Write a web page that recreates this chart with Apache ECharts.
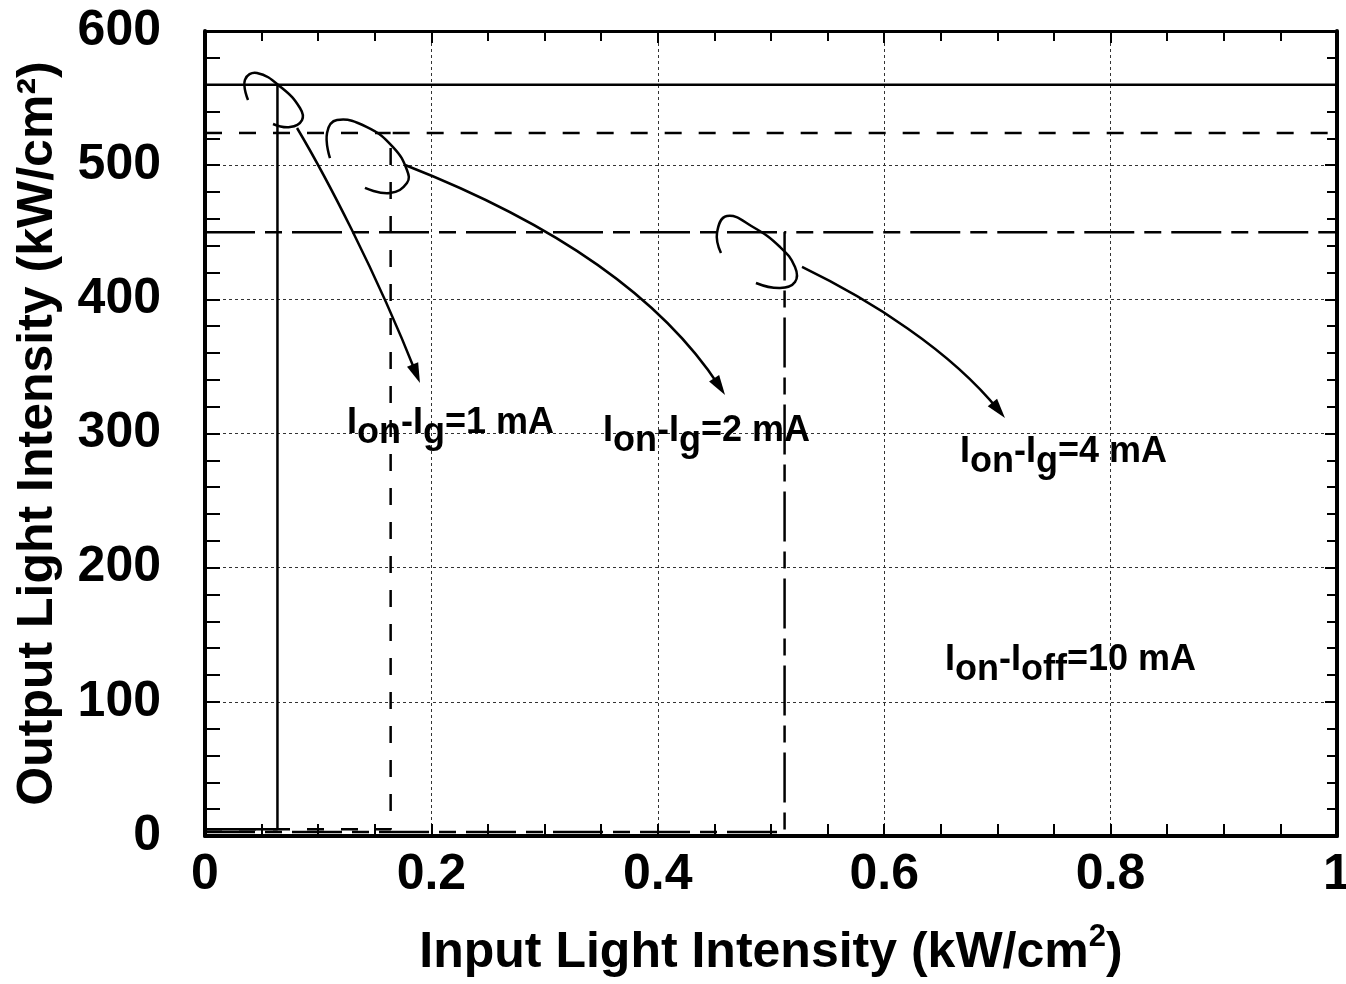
<!DOCTYPE html>
<html><head><meta charset="utf-8">
<script src="https://cdn.jsdelivr.net/npm/echarts@6/dist/echarts.min.js"></script>
<style>html,body{margin:0;padding:0;background:#fff}#c{width:1346px;height:984px}</style>
</head><body><div id="c"></div>
<script>
// ---- data ----
const xTickValues = [0, 0.2, 0.4, 0.6, 0.8, 1];
const yTickValues = [0, 100, 200, 300, 400, 500, 600];
const curveNames = ['Ion-Ig=1 mA', 'Ion-Ig=2 mA', 'Ion-Ig=4 mA'];
const switchInput = [0.064, 0.164, 0.512];   // kW/cm2 where output jumps
const highOutput = [560, 524, 450];           // kW/cm2 upper branch
const lowOutput = [5, 5, 3];                  // kW/cm2 lower branch

// annotation arrows (data coordinates)
const arrowLoops = [
  [[0.038,548.6],[0.0353,563.5],[0.0459,568.7],[0.068,557.5],[0.0839,542.6],[0.0857,533.6],[0.0751,528.4],[0.0601,530.7]],
  [[0.1104,505.3],[0.1078,524.0],[0.1166,533.6],[0.1431,528.4],[0.1661,513.5],[0.1784,496.4],[0.1784,486.7],[0.1634,479.2],[0.1413,483.0]],
  [[0.4558,434.5],[0.4523,449.4],[0.4611,462.1],[0.4841,453.9],[0.5080,439.0],[0.5212,424.1],[0.5212,412.9],[0.5080,408.4],[0.4867,412.2]]
];
// cubic tails: start, control 1, control 2, tip
const arrowTails = [
  [[0.0813,527.7],[0.1060,492.7],[0.1502,421.9],[0.1899,337.6]],
  [[0.1767,500.1],[0.2783,466.6],[0.3931,414.4],[0.4594,328.7]],
  [[0.5274,424.1],[0.5875,399.5],[0.6581,362.2],[0.7067,311.5]]
];
// annotation labels
const labelTexts = [
  '{m|I}{s|on}{m|-I}{s|g}{m|=1 mA}',
  '{m|I}{s|on}{m|-I}{s|g}{m|=2 mA}',
  '{m|I}{s|on}{m|-I}{s|g}{m|=4 mA}',
  '{m|I}{s|on}{m|-I}{s|off}{m|=10 mA}'
];
const labelAnchors = [[0.1254,306.3],[0.3516,300.4],[0.667,284.7],[0.6537,129.3]];

// ---- styles ----
const FONT = '"Liberation Sans", Arial, sans-serif';
const dashStyles = ['solid', [17, 17], [50, 10, 17, 10]];

const chart = echarts.init(document.getElementById('c'));

const series = [];
for (let i = 0; i < curveNames.length; i++) {
  const ls = { color: '#000', width: 2.5, type: dashStyles[i] };
  series.push({
    name: curveNames[i], type: 'line', showSymbol: false, symbol: 'none',
    lineStyle: ls, silent: true, z: 5,
    data: [[0, lowOutput[i]], [switchInput[i], lowOutput[i]], [switchInput[i], highOutput[i]], [1, highOutput[i]]]
  });
  series.push({
    name: curveNames[i] + ' return', type: 'line', showSymbol: false, symbol: 'none',
    lineStyle: ls, silent: true, z: 5,
    data: [[0, highOutput[i]], [switchInput[i], highOutput[i]]]
  });
}

series.push({
  type: 'custom', coordinateSystem: 'cartesian2d', silent: true, z: 6,
  data: arrowTails.map((t, i) => [t[0][0], t[0][1], i]),
  renderItem: function (params, api) {
    const i = api.value(2);
    const loop = arrowLoops[i].map(p => api.coord(p));
    const t = arrowTails[i].map(p => api.coord(p));
    const tip = t[3], c2 = t[2];
    const a = Math.atan2(tip[1] - c2[1], tip[0] - c2[0]);
    const L = 20, W = 6;
    const bx = tip[0] - L * Math.cos(a), by = tip[1] - L * Math.sin(a);
    const left = [bx + W * Math.sin(a), by - W * Math.cos(a)];
    const right = [bx - W * Math.sin(a), by + W * Math.cos(a)];
    const endX = tip[0] - 10 * Math.cos(a), endY = tip[1] - 10 * Math.sin(a);
    const st = { stroke: '#000', lineWidth: 2.5, fill: 'none' };
    return {
      type: 'group', children: [
        { type: 'polyline', shape: { points: loop, smooth: 0.45 }, style: st },
        { type: 'bezierCurve', shape: { x1: t[0][0], y1: t[0][1], cpx1: t[1][0], cpy1: t[1][1], cpx2: c2[0], cpy2: c2[1], x2: endX, y2: endY }, style: st },
        { type: 'polygon', shape: { points: [tip, left, right] }, style: { fill: '#000' } }
      ]
    };
  }
});

const richLabel = {
  m: { fontSize: 36, fontWeight: 'bold', fontFamily: FONT, lineHeight: 40, verticalAlign: 'top', fill: '#000', color: '#000' },
  s: { fontSize: 36, fontWeight: 'bold', fontFamily: FONT, lineHeight: 40, verticalAlign: 'top', padding: [10, 0, 0, 0], fill: '#000', color: '#000' }
};
series.push({
  type: 'custom', coordinateSystem: 'cartesian2d', silent: true, z: 7,
  data: labelAnchors.map((p, i) => [p[0], p[1], i]),
  renderItem: function (params, api) {
    const i = api.value(2);
    const pt = api.coord([api.value(0), api.value(1)]);
    return {
      type: 'text', x: pt[0], y: pt[1],
      style: {
        text: labelTexts[i], rich: richLabel,
        fontSize: 36, fontWeight: 'bold', fontFamily: FONT, fill: '#000',
        align: 'left', verticalAlign: 'middle', textAlign: 'left', textVerticalAlign: 'middle'
      }
    };
  }
});

const tickCommon = { show: true, inside: true, length: 12, lineStyle: { color: '#000', width: 2 } };
const gridDot = { show: true, lineStyle: { color: '#333', width: 1, type: [3, 3] } };

const option = {
  animation: false,
  backgroundColor: '#fff',
  grid: { left: 205, right: 9, top: 31, bottom: 148, containLabel: false, outerBoundsMode: 'none' },
  xAxis: [{
    type: 'value', min: 0, max: 1, interval: 0.2, position: 'bottom',
    axisLine: { show: true, onZero: false, lineStyle: { color: '#000', width: 4 } },
    axisTick: tickCommon,
    minorTick: { show: true, splitNumber: 4, length: 12, lineStyle: { color: '#000', width: 2 } },
    splitLine: gridDot,
    axisLabel: { fontSize: 50, fontWeight: 'bold', fontFamily: FONT, color: '#000', margin: 14,
      formatter: v => String(xTickValues.find(t => Math.abs(t - v) < 1e-9) ?? v) },
    name: '{a|Input Light Intensity (kW/cm}{s|2}{a|)}',
    nameLocation: 'middle', nameGap: 86,
    nameTextStyle: {
      rich: {
        a: { fontSize: 50, fontWeight: 'bold', fontFamily: FONT, color: '#000', lineHeight: 56, verticalAlign: 'bottom' },
        s: { fontSize: 31, fontWeight: 'bold', fontFamily: FONT, color: '#000', lineHeight: 30, verticalAlign: 'top' }
      }
    }
  }, {
    type: 'value', min: 0, max: 1, interval: 0.2, position: 'top',
    axisLine: { show: true, onZero: false, lineStyle: { color: '#000', width: 3 } },
    axisTick: tickCommon,
    minorTick: { show: true, splitNumber: 4, length: 10, lineStyle: { color: '#000', width: 2 } },
    splitLine: { show: false }, axisLabel: { show: false }
  }],
  yAxis: [{
    type: 'value', min: 0, max: 600, interval: 100, position: 'left',
    axisLine: { show: true, onZero: false, lineStyle: { color: '#000', width: 4 } },
    axisTick: Object.assign({}, tickCommon, { length: 15 }),
    minorTick: { show: true, splitNumber: 5, length: 15, lineStyle: { color: '#000', width: 2 } },
    splitLine: gridDot,
    axisLabel: { fontSize: 50, fontWeight: 'bold', fontFamily: FONT, color: '#000', margin: 44,
      formatter: v => String(yTickValues.find(t => t === v) ?? v) },
    name: 'Output Light Intensity (kW/cm²)',
    nameLocation: 'middle', nameRotate: 90, nameGap: 136,
    nameTextStyle: { fontSize: 50, fontWeight: 'bold', fontFamily: FONT, color: '#000', lineHeight: 56 }
  }, {
    type: 'value', min: 0, max: 600, interval: 100, position: 'right',
    axisLine: { show: true, onZero: false, lineStyle: { color: '#000', width: 4 } },
    axisTick: tickCommon,
    minorTick: { show: true, splitNumber: 5, length: 10, lineStyle: { color: '#000', width: 2 } },
    splitLine: { show: false }, axisLabel: { show: false }
  }],
  series: series
};
chart.setOption(option);
</script>
</body></html>
